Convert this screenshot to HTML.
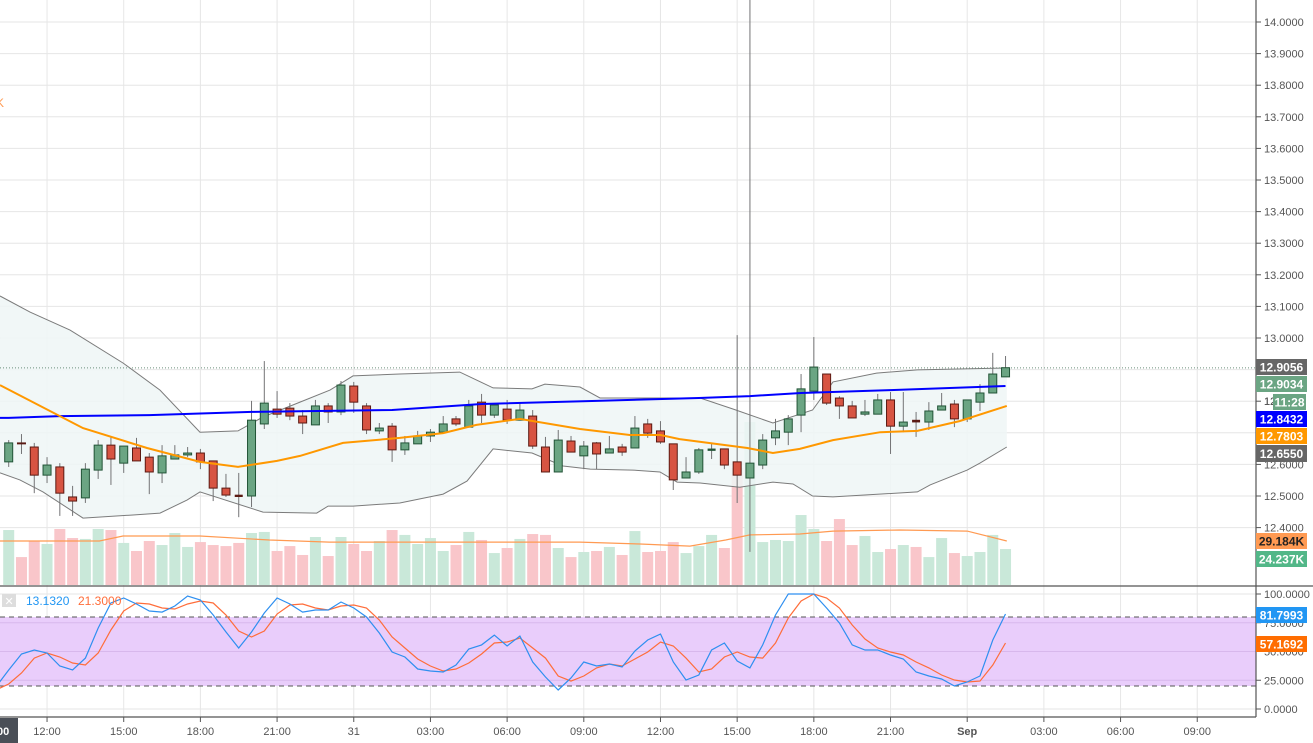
<!DOCTYPE html>
<html><head><meta charset="utf-8">
<style>
html,body{margin:0;padding:0;background:#fff;}
svg{display:block;font-family:"Liberation Sans",sans-serif;}
</style></head>
<body>
<svg id="chart" width="1313" height="743" viewBox="0 0 1313 743" xmlns="http://www.w3.org/2000/svg">
<g id="grid"></g>
<g id="volume"></g>
<g id="bands"></g>
<g id="candles"></g>
<g id="stoch"></g>
<g id="axes"></g>
<g id="labels"></g>
</svg>
<script>
const NS="http://www.w3.org/2000/svg";
// ---- data ----
const opens=[12.608,12.668,12.655,12.566,12.592,12.497,12.494,12.582,12.661,12.604,12.652,12.623,12.573,12.617,12.630,12.636,12.611,12.525,12.501,12.500,12.728,12.775,12.778,12.753,12.725,12.785,12.766,12.848,12.785,12.706,12.721,12.646,12.665,12.690,12.702,12.744,12.718,12.797,12.756,12.775,12.740,12.753,12.655,12.576,12.674,12.627,12.668,12.636,12.655,12.652,12.728,12.706,12.665,12.557,12.576,12.646,12.649,12.608,12.557,12.598,12.684,12.702,12.756,12.832,12.886,12.810,12.785,12.759,12.759,12.804,12.721,12.738,12.734,12.772,12.791,12.744,12.797,12.826,12.877];
const highs=[12.677,12.696,12.668,12.623,12.604,12.532,12.604,12.677,12.687,12.658,12.684,12.636,12.661,12.661,12.655,12.649,12.611,12.570,12.573,12.801,12.927,12.832,12.794,12.772,12.804,12.794,12.864,12.861,12.794,12.731,12.731,12.690,12.706,12.712,12.753,12.753,12.804,12.823,12.794,12.804,12.797,12.772,12.687,12.709,12.690,12.674,12.671,12.690,12.665,12.753,12.744,12.737,12.665,12.623,12.652,12.665,12.649,13.009,14.08,12.696,12.744,12.756,12.886,13.003,12.886,12.816,12.801,12.804,12.823,12.829,12.829,12.766,12.797,12.826,12.804,12.804,12.854,12.953,12.943];
const lows=[12.592,12.633,12.509,12.541,12.437,12.437,12.478,12.554,12.535,12.573,12.611,12.506,12.541,12.617,12.623,12.585,12.484,12.497,12.433,12.465,12.712,12.747,12.740,12.696,12.725,12.731,12.756,12.763,12.696,12.696,12.608,12.630,12.665,12.671,12.702,12.721,12.718,12.731,12.747,12.728,12.740,12.649,12.576,12.576,12.639,12.585,12.585,12.636,12.627,12.652,12.684,12.665,12.519,12.557,12.570,12.617,12.585,12.478,12.323,12.585,12.661,12.661,12.702,12.804,12.788,12.744,12.747,12.753,12.759,12.633,12.702,12.687,12.709,12.772,12.718,12.734,12.769,12.826,12.877];
const closes=[12.668,12.665,12.566,12.598,12.509,12.484,12.585,12.661,12.617,12.658,12.611,12.576,12.627,12.630,12.636,12.608,12.525,12.503,12.500,12.740,12.794,12.759,12.753,12.731,12.785,12.766,12.851,12.797,12.709,12.715,12.646,12.668,12.690,12.702,12.728,12.728,12.785,12.756,12.788,12.740,12.772,12.658,12.576,12.677,12.639,12.658,12.633,12.649,12.639,12.715,12.699,12.671,12.551,12.576,12.646,12.647,12.598,12.566,12.604,12.677,12.706,12.744,12.839,12.908,12.794,12.785,12.747,12.766,12.804,12.721,12.734,12.736,12.769,12.785,12.744,12.804,12.826,12.886,12.906];
const volumesK=[37.0,18.8,29.6,27.6,37.7,31.6,31.0,37.7,37.0,28.3,22.9,29.6,26.9,35.0,25.6,28.9,26.9,26.2,28.3,35.0,35.7,22.9,26.2,20.2,32.3,19.5,32.3,27.6,22.9,29.6,37.0,33.7,27.6,31.6,22.9,26.9,35.7,30.3,21.5,24.9,31.0,34.3,33.7,24.9,18.8,22.2,22.9,25.6,20.2,36.3,22.2,22.9,28.9,21.5,26.2,33.7,24.9,78.7,109.7,28.9,30.3,29.6,47.1,37.7,29.6,44.4,26.9,33.0,22.2,24.2,26.9,25.6,18.8,31.6,21.5,19.5,22.2,33.7,24.2];
const volMaIdx=[-0.68,7.1,8.94,14.97,20.4,25.1,32.2,40.0,44.7,49.4,53.3,56.1,58.0,61.9,64.5,69.7,75.0,78.1];
const volMaVal=[29.6,29.6,33.0,33.0,30.3,28.9,28.9,28.9,28.9,27.6,26.2,30.3,33.7,34.3,36.3,37.0,36.3,29.6];
const maIdx=[-0.68,0,4,11,19,30,37,46,54,58,62,69,78];
const maVal=[12.747,12.747,12.753,12.756,12.766,12.772,12.791,12.801,12.810,12.816,12.826,12.835,12.848];
const emaIdx=[-0.68,5.81,10.82,14.97,17.94,20.99,22.79,26.16,30.6,34.0,36.6,40.0,44.7,48.6,51.0,52.5,57.8,59.8,61.9,64.5,68.2,71.1,74.4,78.1];
const emaVal=[12.851,12.715,12.652,12.608,12.592,12.611,12.627,12.668,12.684,12.699,12.725,12.744,12.712,12.693,12.693,12.680,12.652,12.636,12.649,12.677,12.702,12.706,12.737,12.785];
const upIdx=[-0.68,1.67,4.8,8.94,11.84,14.97,17.94,19.9,22.79,25.14,26.94,30.6,35.3,37.9,40.95,41.96,44.7,46.27,54.1,56.7,59.8,62.9,64.5,67.9,71.1,78.1];
const upVal=[13.133,13.082,13.025,12.921,12.835,12.702,12.706,12.750,12.797,12.835,12.880,12.886,12.892,12.842,12.839,12.854,12.845,12.810,12.810,12.775,12.731,12.772,12.861,12.889,12.899,12.905];
const loIdx=[-0.68,0.88,2.68,5.81,9.73,11.84,13.95,14.97,19.9,24.1,24.99,26.94,30.6,34.0,35.86,37.9,40.95,43.37,45.5,48.85,50.96,52.3,54.1,57.2,59.8,61.37,62.9,64.5,71.1,72.1,75.0,76.0,78.1];
const loVal=[12.573,12.551,12.513,12.430,12.440,12.446,12.487,12.513,12.449,12.446,12.468,12.468,12.478,12.506,12.547,12.649,12.636,12.595,12.585,12.582,12.576,12.544,12.541,12.528,12.544,12.538,12.500,12.497,12.513,12.535,12.582,12.604,12.655];
// stochastic, index -1..78
const stochK=[19.1,33.9,47.8,51.3,48.7,37.4,33.9,44.3,70.4,92.2,96.5,91.3,85.2,84.3,89.6,98.3,94.8,81.7,67.0,53.0,67.0,83.5,96.5,91.3,84.3,86.1,86.1,93.0,87.8,80.0,66.1,49.6,45.2,34.8,33.0,32.2,38.3,52.2,55.7,64.3,54.8,63.5,40.9,27.8,16.5,27.0,40.9,37.4,39.1,36.5,50.4,60.0,65.2,40.9,25.2,29.6,51.3,57.4,41.7,35.7,55.7,81.7,100,100,100,87.8,74.8,55.7,51.3,51.3,47.0,43.5,32.2,28.7,26.1,20.0,23.5,28.7,60.0,82.6];
const stochD=[16.5,21.7,31.3,44.3,48.7,45.2,40.0,38.3,48.7,68.7,85.2,92.2,91.3,87.8,87.0,91.3,93.9,92.2,81.7,67.8,62.6,67.8,82.6,90.4,91.3,87.8,86.1,89.6,90.4,87.8,77.4,62.6,53.0,43.5,37.4,33.0,34.8,40.0,47.8,57.4,58.3,61.7,53.0,44.3,28.7,24.3,28.7,35.7,39.1,37.4,43.5,49.6,58.3,54.8,44.3,32.2,34.8,45.2,49.6,45.2,44.3,57.4,79.1,93.9,100,96.5,87.8,73.0,60.9,53.0,49.6,47.0,40.9,35.7,29.6,25.2,23.5,24.3,38.3,57.4];
const priceTicks=[14.0,13.9,13.8,13.7,13.6,13.5,13.4,13.3,13.2,13.1,13.0,12.9,12.8,12.7,12.6,12.5,12.4];
const stochTicks=[100,75,50,25,0];
const timeLabels=["12:00","15:00","18:00","21:00","31","03:00","06:00","09:00","12:00","15:00","18:00","21:00","Sep","03:00","06:00","09:00"];
const timeTickIdx=[3,9,15,21,27,33,39,45,51,57,63,69,75,81,87,93];

// ---- scales ----
const X=i=>8.7+12.78*i;
const YP=p=>338-(p-13)*316;
const YV=v=>585-v/0.673;
const YS=s=>709-s*1.15;
const AX=1256;

function el(tag,attrs,parent){const e=document.createElementNS(NS,tag);for(const k in attrs)e.setAttribute(k,attrs[k]);parent.appendChild(e);return e;}
const G=id=>document.getElementById(id);

// grid
const grid=G('grid');
timeTickIdx.forEach((t,k)=>{const l=el('line',{x1:X(t),x2:X(t),y1:0,y2:717,stroke:'#e6e6e6','stroke-width':1},grid);

});
priceTicks.forEach(p=>{const l=el('line',{x1:0,x2:AX,y1:YP(p),y2:YP(p),stroke:'#e6e6e6'},grid);

});
stochTicks.forEach(s=>{const l=el('line',{x1:0,x2:AX,y1:YS(s),y2:YS(s),stroke:'#e6e6e6'},grid);

});

// volume
const vg=G('volume');
volumesK.forEach((v,i)=>{const up=closes[i]>=opens[i];
const r=el('rect',{x:X(i)-5.5,y:YV(v),width:11,height:585-YV(v),fill:up?'#c9e8d9':'#f9c6ca'},vg);

});
function poly(idx,val,fy,parent,attrs,name){const pts=idx.map((t,k)=>X(t).toFixed(1)+','+fy(val[k]).toFixed(1)).join(' ');
const p=el('polyline',Object.assign({points:pts,fill:'none'},attrs),parent);

return p;}
poly(volMaIdx,volMaVal,YV,vg,{stroke:'#ff9a52','stroke-width':1.2},'volume-ma-line');

// bands
const bg=G('bands');
const fillPts=upIdx.map((t,k)=>X(t)+','+YP(upVal[k])).concat(loIdx.slice().reverse().map((t,k)=>{const kk=loIdx.length-1-k;return X(t)+','+YP(loVal[kk]);})).join(' ');
const bf=el('polygon',{points:fillPts,fill:'#eef6f6',opacity:0.85},bg);


poly(upIdx,upVal,YP,bg,{stroke:'#7b7b7b','stroke-width':1},'upper-band');
poly(loIdx,loVal,YP,bg,{stroke:'#7b7b7b','stroke-width':1},'lower-band');
// last price dotted
const lp=el('line',{x1:0,x2:AX,y1:YP(12.9056),y2:YP(12.9056),stroke:'#6b8f7b','stroke-dasharray':'1,2'},bg);



// candles
const cg=G('candles');
opens.forEach((o,i)=>{const c=closes[i],up=c>o+0.0005,doji=Math.abs(c-o)<0.002;const x=X(i);
const w=el('line',{x1:x,x2:x,y1:YP(highs[i]),y2:YP(lows[i]),stroke:'#737375','stroke-width':1},cg);


const top=YP(Math.max(o,c)),bot=YP(Math.min(o,c));
let b;
if(doji){b=el('rect',{x:x-4,y:top-1,width:8,height:Math.max(2,bot-top+2),fill:up?'#225437':'#5b1a13'},cg);}
else{b=el('rect',{x:x-4,y:top,width:8,height:bot-top,fill:up?'#6ba583':'#d75442',stroke:up?'#225437':'#5b1a13','stroke-width':1},cg);}

});
poly(maIdx,maVal,YP,cg,{stroke:'#0000ff','stroke-width':2},'ma-line');
poly(emaIdx,emaVal,YP,cg,{stroke:'#ff9800','stroke-width':2},'ema-line');

// stochastic
const sg=G('stoch');
const sf=el('rect',{x:0,y:YS(80),width:AX,height:YS(20)-YS(80),fill:'#e9cdfb'},sg);


[80,20].forEach(s=>{const l=el('line',{x1:0,x2:AX,y1:YS(s),y2:YS(s),stroke:'#555','stroke-dasharray':'5,4'},sg);

});
stochTicks.forEach(s=>{if(s>0&&s<100){const l=el('line',{x1:0,x2:AX,y1:YS(s),y2:YS(s),stroke:'#d8b8ec'},sg);

}});
const sIdx=stochK.map((_,k)=>k-1);
poly(sIdx,stochD,YS,sg,{stroke:'#ff6d3a','stroke-width':1.2},'stoch-d-line');
poly(sIdx,stochK,YS,sg,{stroke:'#2e8ff0','stroke-width':1.2},'stoch-k-line');

// axes
const ag=G('axes');
function line(a,n){const l=el('line',a,ag);return l;}
function text(x,y,s,a,n,parent){const t=el('text',Object.assign({x:x,y:y,'font-size':11,fill:'#555'},a),parent||ag);t.textContent=s;return t;}
line({x1:AX,x2:AX,y1:0,y2:717,stroke:'#555','stroke-width':1.2},'price-axis-line');
line({x1:0,x2:1313,y1:586,y2:586,stroke:'#555','stroke-width':1.2},'pane-separator');
line({x1:0,x2:AX,y1:717,y2:717,stroke:'#555','stroke-width':1.2},'time-axis-line');
priceTicks.forEach(p=>{line({x1:AX,x2:AX+5,y1:YP(p),y2:YP(p),stroke:'#555'},'price-tick');
text(1264,YP(p)+4,p.toFixed(4),{},'price-tick-label');});
stochTicks.forEach(s=>{line({x1:AX,x2:AX+5,y1:YS(s),y2:YS(s),stroke:'#555'},'stoch-tick');
text(1264,YS(s)+4,s.toFixed(4),{},'stoch-tick-label');});
timeLabels.forEach((s,k)=>{const x=X(timeTickIdx[k]);
line({x1:x,x2:x,y1:717,y2:722,stroke:'#555'},'time-tick');
text(x,735,s,{'text-anchor':'middle','font-weight':s==='Sep'?'bold':'normal'},'time-tick-label');});
const tb=el('rect',{x:0,y:718,width:18,height:25,fill:'#4a4f57'},ag);


text(-3,735,'00',{fill:'#fff','font-weight':'bold'},'crosshair-time-text');
text(-4,107,'K',{fill:'#ff9a52','font-size':12},'volume-legend-fragment');
// stoch legend
const lb=el('rect',{x:2,y:594,width:14,height:13,fill:'#ddd'},ag);


text(4.5,605,'✕',{fill:'#fff','font-size':11},'legend-close-icon');
text(26,605,'13.1320',{fill:'#2196f3','font-size':12},'legend-k-value');
text(78,605,'21.3000',{fill:'#ff6d3a','font-size':12},'legend-d-value');

// right price labels
const lg=G('labels');
function tag(y,h,bgc,txt,fg,name,x0,w){const r=el('rect',{x:x0||AX,y:y,width:w||51,height:h,fill:bgc},lg);


text((x0||AX)+(w||51)/2,y+h/2+4.5,txt,{fill:fg,'font-weight':'bold','font-size':12,'text-anchor':'middle'},name+'-text',lg);}
tag(359,16,'#666666','12.9056','#fff','last-price-tag');
tag(376,16,'#6ba583','12.9034','#fff','close-price-tag');
text(1264,YP(12.8)+4,'12',{},'hidden-tick',lg);
tag(394,16,'#6ba583','11:28','#fff','countdown-tag',1273,33);
tag(411,16,'#0000ff','12.8432','#fff','ma-value-tag');
tag(428,16,'#ff9800','12.7803','#fff','ema-value-tag');
tag(445,17,'#666666','12.6550','#fff','lower-band-tag');
tag(533,16,'#ff9a52','29.184K','#222','volume-ma-tag');
tag(551,16,'#52b788','24.237K','#fff','volume-tag');
tag(607,16,'#2196f3','81.7993','#fff','stoch-k-tag');
tag(636,16,'#ff6d00','57.1692','#fff','stoch-d-tag');
</script>
</body></html>
